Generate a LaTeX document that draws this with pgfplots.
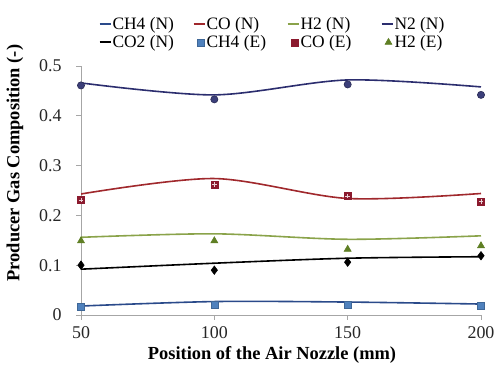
\documentclass[border=0pt]{standalone}
\usepackage{fontspec}
\setmainfont{Liberation Serif}
\usepackage{pgfplots}
\usepackage{pgfplotstable}
\pgfplotsset{compat=1.18}
\definecolor{ch4line}{HTML}{2A4A8A}
\definecolor{ch4mk}{HTML}{4F81BD}
\definecolor{coline}{HTML}{A0282C}
\definecolor{comk}{HTML}{8B1A2E}
\definecolor{h2line}{HTML}{8AA34A}
\definecolor{h2mk}{HTML}{5F7F24}
\definecolor{n2line}{HTML}{2B2D6E}
\definecolor{n2mk}{HTML}{3C3F7A}
\definecolor{axgray}{HTML}{A6A6A6}
\pgfplotstableread{
x CH4 CO H2 N2 CO2
50 0.018 0.243 0.156 0.466 0.092
100 0.027 0.274 0.163 0.442 0.104
150 0.026 0.234 0.152 0.472 0.114
200 0.022 0.244 0.159 0.458 0.117
}\numtab
\pgfplotstableread{
x CH4 CO H2 N2 CO2
50 0.017 0.231 0.149 0.461 0.100
100 0.021 0.262 0.149 0.433 0.090
150 0.021 0.239 0.132 0.463 0.106
200 0.019 0.228 0.139 0.442 0.119
}\exptab
\begin{document}
\begin{tikzpicture}
\path[use as bounding box] (0,0) rectangle (496bp,374bp);
\begin{axis}[
  at={(81bp,59bp)}, anchor=south west,
  scale only axis, width=400bp, height=249bp,
  xmin=50, xmax=200, ymin=0, ymax=0.5,
  xtick={50,100,150,200}, ytick={0,0.1,0.2,0.3,0.4,0.5},
  axis x line*=bottom, axis y line*=left,
  axis line style={axgray, line width=0.8bp, -},
  tick align=outside, major tick length=5bp,
  tick style={axgray, line width=0.8bp},
  /pgf/number format/assume math mode=true,
  ticklabel style={font=\fontsize{18}{20}\selectfont, text=black!85},
  yticklabel style={xshift=-11bp},
  xticklabel style={yshift=-3bp},
  xlabel={\textbf{Position of the Air Nozzle (mm)}},
  xlabel style={font=\fontsize{18.5}{20}\selectfont, at={(axis description cs:0.4775,-0.162)}, anchor=center},
  ylabel={\textbf{Producer Gas Composition (-)}},
  ylabel style={font=\fontsize{18.5}{20}\selectfont, at={(axis description cs:-0.165,0.61)}, anchor=center, rotate=0},
  legend columns=4,
  legend style={at={(axis description cs:0.49,1.132)}, anchor=center, draw=none, fill=none,
    font=\fontsize{17.5}{19}\selectfont, inner sep=0pt, row sep=3bp,
    nodes={inner sep=1bp}},
  legend cell align=left,
  every axis plot/.append style={line width=1.6bp},
]
\pgfplotsset{
  lineimg/.style={legend image code/.code={\draw[##1, line width=2bp] (0bp,0bp) -- (11bp,0bp);}},
  mkimg/.style={legend image code/.code={\draw[##1] plot coordinates {(7bp,0bp)};}},
}
\addplot[ch4line, smooth, no marks, lineimg] table[x=x,y=CH4] {\numtab};
\addlegendentry{\makebox[79bp][l]{CH4 (N)}}
\addplot[coline, smooth, no marks, lineimg] table[x=x,y=CO] {\numtab};
\addlegendentry{\makebox[79bp][l]{CO (N)}}
\addplot[h2line, smooth, no marks, lineimg] table[x=x,y=H2] {\numtab};
\addlegendentry{\makebox[79bp][l]{H2 (N)}}
\addplot[n2line, smooth, no marks, lineimg] table[x=x,y=N2] {\numtab};
\addlegendentry{\makebox[60bp][l]{N2 (N)}}
\addplot[black, smooth, no marks, lineimg] table[x=x,y=CO2] {\numtab};
\addlegendentry{\makebox[79bp][l]{CO2 (N)}}
\addplot[only marks, mark=square*, mark size=3.5bp, mark options={fill=ch4mk, draw=ch4mk!80!black, line width=0.6bp}, mkimg] table[x=x,y=CH4] {\exptab};
\addlegendentry{\makebox[79bp][l]{CH4 (E)}}
\addplot[only marks, mark=square*, mark size=3.5bp, mark options={fill=comk, draw=comk, line width=0.6bp}, mkimg] table[x=x,y=CO] {\exptab};
\addlegendentry{\makebox[79bp][l]{CO (E)}}
\addplot[only marks, mark=triangle*, mark size=4bp, mark options={fill=h2mk, draw=h2mk, line width=0.6bp}, mkimg] table[x=x,y=H2] {\exptab};
\addlegendentry{\makebox[60bp][l]{H2 (E)}}
\addplot[forget plot, only marks, mark=+, mark size=2.2bp, mark options={draw=white!80!comk, line width=0.7bp}] table[x=x,y=CO] {\exptab};
\addplot[forget plot, only marks, mark=*, mark size=3.6bp, mark options={fill=n2mk, draw=n2mk!70!black, line width=0.6bp}] table[x=x,y=N2] {\exptab};
\addplot[forget plot, only marks, mark=diamond*, mark size=4.2bp, mark options={fill=black, draw=black, line width=0.6bp}] table[x=x,y=CO2] {\exptab};
\end{axis}
\end{tikzpicture}
\end{document}
